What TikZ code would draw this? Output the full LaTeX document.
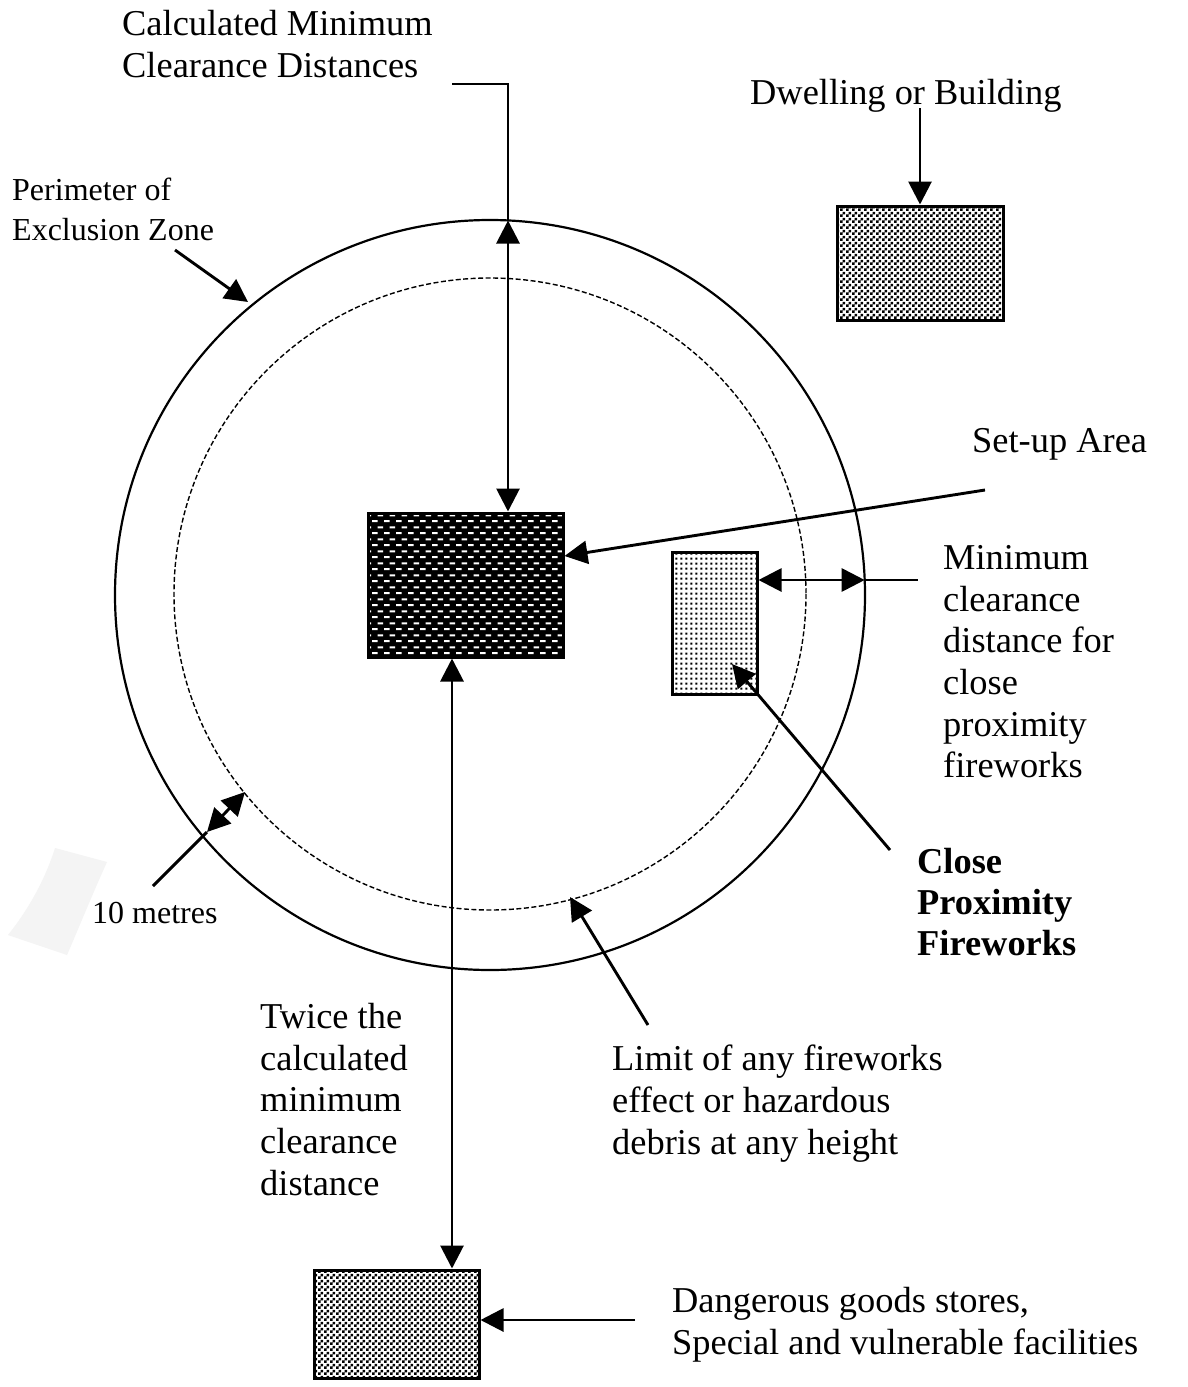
\documentclass[tikz,border=0pt]{standalone}
\usepackage{fontspec}
\setmainfont{Liberation Serif}
\usetikzlibrary{arrows.meta,patterns}
\pgfdeclarepatternformonly{whitedashes}{\pgfqpoint{0pt}{0pt}}{\pgfqpoint{12pt}{12pt}}{\pgfqpoint{12pt}{12pt}}{%
  \pgfpathrectangle{\pgfqpoint{0pt}{1pt}}{\pgfqpoint{6pt}{2.2pt}}%
  \pgfpathrectangle{\pgfqpoint{6pt}{7pt}}{\pgfqpoint{6pt}{2.2pt}}%
  \pgfusepath{fill}}
\pgfdeclarepatternformonly{smalldots}{\pgfqpoint{0pt}{0pt}}{\pgfqpoint{5.4pt}{5.4pt}}{\pgfqpoint{5.4pt}{5.4pt}}{%
  \pgfpathrectangle{\pgfqpoint{1.5pt}{1.5pt}}{\pgfqpoint{2.2pt}{2.2pt}}%
  \pgfusepath{fill}}
\pgfdeclarepatternformonly{finechecker}{\pgfqpoint{0pt}{0pt}}{\pgfqpoint{6pt}{6pt}}{\pgfqpoint{6pt}{6pt}}{%
  \pgfpathrectangle{\pgfqpoint{0pt}{0pt}}{\pgfqpoint{3pt}{3pt}}%
  \pgfpathrectangle{\pgfqpoint{3pt}{3pt}}{\pgfqpoint{3pt}{3pt}}%
  \pgfusepath{fill}}
\definecolor{smudge}{HTML}{F4F4F4}
\tikzset{
  conn/.style={line width=2.9pt},
  arr/.style={conn,-{Triangle[length=23pt,width=23pt]}},
  dbl/.style={conn,{Triangle[length=23pt,width=23pt]}-{Triangle[length=23pt,width=23pt]}},
  box/.style={draw,line width=3pt,inner sep=0pt},
  lbl/.style={font=\fontsize{36.4}{41.7}\selectfont, align=left, inner sep=0pt},
  slbl/.style={font=\fontsize{32}{40}\selectfont, align=left, inner sep=0pt},
}
\begin{document}
\begin{tikzpicture}[x=1pt,y=-1pt]
\useasboundingbox[fill=white] (0,0) rectangle (1187,1387);
% faint smudge
\fill[smudge] (55,848) -- (107,862) .. controls (92,895) and (80,925) .. (67,955) -- (8,935) .. controls (28,910) and (45,880) .. cycle;
% circles
\draw[line width=2.2pt] (490,595) circle[radius=375];
\draw[line width=1.4pt, dash pattern=on 5pt off 2.5pt] (490,594) circle[radius=316];
% boxes
\node[box, preaction={fill=black}, pattern=whitedashes, pattern color=white, minimum width=195pt, minimum height=144pt] (setup) at (465.5,585) {};
\node[box, pattern=smalldots, minimum width=85pt, minimum height=142pt] (cpf) at (714.5,623) {};
\node[box, pattern=finechecker, minimum width=166pt, minimum height=114pt] (dwell) at (920,263) {};
\node[box, pattern=finechecker, minimum width=165pt, minimum height=108pt] (dgs) at (396.5,1324) {};
% labels
\node[lbl, anchor=north west] (tCMCD) at (122,10) {Calculated Minimum\\Clearance Distances};
\node[lbl, anchor=base west] (tDwell) at (750,104) {Dwelling or Building};
\node[slbl, anchor=north west] (tPer) at (12,178) {Perimeter of\\Exclusion Zone};
\node[lbl, anchor=base west] (tSetup) at (972,452) {Set-up Area};
\node[lbl, anchor=north west] (tMin) at (943,545) {Minimum\\clearance\\distance for\\close\\proximity\\fireworks};
\node[lbl, font=\fontsize{36.4}{41}\selectfont\bfseries, anchor=north west] (tCPF) at (917,848) {Close\\Proximity\\Fireworks};
\node[slbl, anchor=base west] (t10) at (92,923) {10 metres};
\node[lbl, anchor=north west] (tTwice) at (260,1003) {Twice the\\calculated\\minimum\\clearance\\distance};
\node[lbl, anchor=north west] (tLimit) at (612,1045) {Limit of any fireworks\\effect or hazardous\\debris at any height};
\node[lbl, anchor=north west] (tDGS) at (672,1287) {Dangerous goods stores,\\Special and vulnerable facilities};
% coordinates
\coordinate (cmL) at (452,84);
\coordinate (cmC) at (508,84);
\coordinate (outTop) at (508,220.5);
\coordinate (suStart) at (985,490);
\coordinate (outRight) at (864.7,580);
\coordinate (minEnd) at (918,580);
\coordinate (cpfStart) at (890,850);
\coordinate (limStart) at (648,1025);
\coordinate (limTip) at (570,897);
\coordinate (dgsStart) at (635,1320);
\coordinate (dwStart) at (920,108);
\coordinate (perStart) at (175,250);
\coordinate (perTip) at (248,302);
\coordinate (tenOut) at (207,832);
\coordinate (tenIn) at (245,792);
\coordinate (tenEnd) at (153,886);
\coordinate (cpfTip) at (732,664);
% connectors
\draw[conn] (cmL) -- (cmC) -- (outTop);
\draw[dbl] (outTop) -- (setup.north -| outTop);
\draw[dbl] (setup.south -| cmL) -- (dgs.north -| cmL);
\draw[arr] (suStart) -- ([yshift=29pt]setup.east);
\draw[dbl] (cpf.east |- outRight) -- (outRight);
\draw[conn] (outRight) -- (minEnd);
\draw[arr] (cpfStart) -- (cpfTip);
\draw[arr] (limStart) -- (limTip);
\draw[arr] (dgsStart) -- ([yshift=4pt]dgs.east);
\draw[arr] (dwStart) -- (dwell.north);
\draw[arr] (perStart) -- (perTip);
\draw[dbl] (tenOut) -- (tenIn);
\draw[conn] (tenOut) -- (tenEnd);
\end{tikzpicture}
\end{document}
